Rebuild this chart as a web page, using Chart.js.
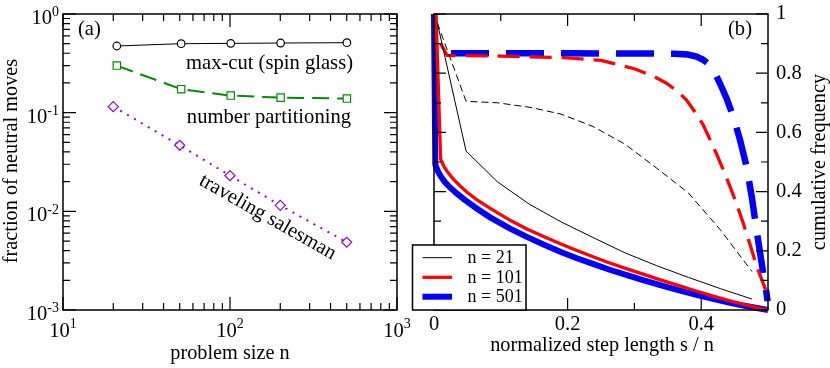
<!DOCTYPE html>
<html>
<head>
<meta charset="utf-8">
<script src="https://cdn.jsdelivr.net/npm/chart.js@4.4.1/dist/chart.umd.min.js"></script>
<style>
  html, body { margin: 0; padding: 0; background: #fff; font-family: "Liberation Serif", "DejaVu Serif", serif; }
  #wrap { position: relative; width: 830px; height: 368px; }
  #wrap canvas { position: absolute; left: 0; top: 0; }
  .probe { position: absolute; left: -999px; top: 0; font-family: "Liberation Serif"; }
</style>
</head>
<body>
<span class="probe">fontprobe 0123</span>
<div id="wrap">
  <canvas id="left" width="830" height="368"></canvas>
  <canvas id="right" width="830" height="368"></canvas>
</div>
<script>
const SERIF = '"Liberation Serif", "DejaVu Serif", serif';

// panel (a): fraction of neutral moves vs problem size
const sizes = [21, 51, 101, 201, 501];
const sizesTsp = [20, 50, 100, 200, 500];
const maxCut = [0.474, 0.500, 0.504, 0.508, 0.512];
const numberPart = [0.300, 0.173, 0.149, 0.142, 0.139];
const travSales = [0.115, 0.0467, 0.0230, 0.0115, 0.00486];
const xExpA = [1, 2, 3];
const yExpA = [0, -1, -2, -3];

// panel (b): cumulative frequency vs normalized step length
const x21 = [0.005, 0.048, 0.095, 0.143, 0.19, 0.238, 0.286, 0.333, 0.381, 0.429, 0.476];
const solid21 = [0.97, 0.537, 0.433, 0.357, 0.298, 0.245, 0.193, 0.15, 0.11, 0.072, 0.037];
const dashed21 = [0.97, 0.705, 0.70, 0.685, 0.662, 0.62, 0.56, 0.48, 0.395, 0.27, 0.13];
const x101s = [0.003, 0.0099, 0.0149, 0.0198, 0.0297, 0.0396, 0.0495, 0.0644, 0.0842, 0.114, 0.139, 0.164, 0.19, 0.214, 0.24, 0.263, 0.29, 0.313, 0.34, 0.363, 0.39, 0.413, 0.44, 0.463, 0.5];
const solid101 = [1.0, 0.51, 0.485, 0.468, 0.44, 0.418, 0.398, 0.372, 0.343, 0.303, 0.274, 0.248, 0.223, 0.201, 0.178, 0.159, 0.138, 0.121, 0.101, 0.085, 0.066, 0.05, 0.033, 0.019, 0.0];
const x101d = [0.0099, 0.0198, 0.1, 0.2, 0.25, 0.3, 0.33, 0.348, 0.365, 0.378, 0.392, 0.403, 0.413, 0.423, 0.433, 0.443, 0.453, 0.463, 0.473, 0.483, 0.4965];
const dashed101 = [0.9, 0.86, 0.858, 0.852, 0.843, 0.815, 0.788, 0.766, 0.738, 0.709, 0.665, 0.625, 0.577, 0.527, 0.474, 0.418, 0.358, 0.293, 0.222, 0.148, 0.068];
const x501s = [0.0, 0.002, 0.006, 0.01, 0.016, 0.024, 0.034, 0.046, 0.064, 0.084, 0.114, 0.139, 0.164, 0.19, 0.214, 0.24, 0.263, 0.29, 0.313, 0.34, 0.363, 0.39, 0.413, 0.44, 0.463, 0.5];
const solid501 = [1.0, 0.49, 0.468, 0.452, 0.433, 0.414, 0.394, 0.372, 0.343, 0.313, 0.275, 0.247, 0.221, 0.196, 0.175, 0.154, 0.136, 0.117, 0.101, 0.083, 0.069, 0.053, 0.04, 0.026, 0.015, 0.0];
const x501d = [0.0, 0.2, 0.36, 0.38, 0.393, 0.403, 0.413, 0.42, 0.428, 0.438, 0.448, 0.458, 0.468, 0.476, 0.483, 0.489, 0.494, 0.4975, 0.4995];
const dashed501 = [0.867, 0.867, 0.866, 0.863, 0.856, 0.845, 0.828, 0.803, 0.766, 0.715, 0.653, 0.576, 0.484, 0.378, 0.268, 0.18, 0.108, 0.06, 0.03];
const xTicksB = [0, 0.2, 0.4];
const yTicksB = [0, 0.2, 0.4, 0.6, 0.8, 1];
const legendLabels = ['n = 21', 'n = 101', 'n = 501'];

const pts = (xs, ys) => xs.map((x, i) => ({ x: x, y: ys[i] }));

function drawTicks(ctx, a, xs, ys, sx, sy) {
  ctx.beginPath();
  xs.forEach(t => {
    const p = sx.getPixelForValue(t.v);
    ctx.moveTo(p, a.bottom); ctx.lineTo(p, a.bottom - t.len);
    ctx.moveTo(p, a.top); ctx.lineTo(p, a.top + t.len);
  });
  ys.forEach(t => {
    const p = sy.getPixelForValue(t.v);
    ctx.moveTo(a.left, p); ctx.lineTo(a.left + t.len, p);
    ctx.moveTo(a.right, p); ctx.lineTo(a.right - t.len, p);
  });
  ctx.lineWidth = 1.2;
  ctx.strokeStyle = '#000';
  ctx.stroke();
  ctx.lineWidth = 1.5;
  ctx.strokeRect(a.left, a.top, a.right - a.left, a.bottom - a.top);
}

function logTicks(lo, hi) {
  const out = [];
  for (let e = lo; e <= hi; e++) {
    out.push({ v: Math.pow(10, e), len: 13 });
    if (e < hi) for (let m = 2; m <= 9; m++) out.push({ v: m * Math.pow(10, e), len: 7 });
  }
  return out;
}

function rotatedText(ctx, text, x, y, angle) {
  ctx.save();
  ctx.translate(x, y);
  ctx.rotate(angle);
  ctx.fillText(text, 0, 0);
  ctx.restore();
}

const panelA = {
  id: 'panelA',
  afterDraw(chart) {
    const { ctx, chartArea: a, scales: { x, y } } = chart;
    ctx.save();
    drawTicks(ctx, a, logTicks(1, 3), logTicks(-3, 0), x, y);
    ctx.fillStyle = '#000';
    ctx.textBaseline = 'middle';
    const base = '20.5px ' + SERIF, sup = '14px ' + SERIF;
    xExpA.forEach(e => {
      const p = x.getPixelForValue(Math.pow(10, e));
      ctx.font = base; const wb = ctx.measureText('10').width;
      ctx.font = sup; const we = ctx.measureText(String(e)).width;
      const s = p - (wb + we) / 2;
      ctx.textAlign = 'left';
      ctx.font = base; ctx.fillText('10', s, a.bottom + 21.5);
      ctx.font = sup; ctx.fillText(String(e), s + wb, a.bottom + 14.5);
    });
    yExpA.forEach(e => {
      const p = y.getPixelForValue(Math.pow(10, e));
      const r = a.left - 4;
      ctx.textAlign = 'right';
      ctx.font = sup; const we = ctx.measureText(String(e)).width;
      ctx.fillText(String(e), r, p - 1.5);
      ctx.font = base; ctx.fillText('10', r - we, p + 4.5);
    });
    ctx.font = '20.3px ' + SERIF;
    ctx.textBaseline = 'alphabetic';
    ctx.textAlign = 'center';
    ctx.fillText('problem size n', 230, 359);
    rotatedText(ctx, 'fraction of neutral moves', 17, 161, -Math.PI / 2);
    ctx.font = '20.6px ' + SERIF;
    ctx.textAlign = 'left';
    ctx.textBaseline = 'middle';
    ctx.fillText('(a)', 78, 30);
    ctx.textBaseline = 'alphabetic';
    ctx.textAlign = 'right';
    ctx.fillText('max-cut (spin glass)', 353, 69);
    ctx.fillText('number partitioning', 351, 123);
    ctx.textAlign = 'left';
    rotatedText(ctx, 'traveling salesman', 198, 184, 29.5 * Math.PI / 180);
    ctx.restore();
  }
};

const panelB = {
  id: 'panelB',
  afterDraw(chart) {
    const { ctx, chartArea: a, scales: { x, y } } = chart;
    ctx.save();
    const xt = xTicksB.map(v => ({ v, len: 12 })).concat([0.1, 0.3].map(v => ({ v, len: 7 })));
    const yt = yTicksB.map(v => ({ v, len: 12 })).concat([0.1, 0.3, 0.5, 0.7, 0.9].map(v => ({ v, len: 7 })));
    drawTicks(ctx, a, xt, yt, x, y);
    ctx.fillStyle = '#000';
    ctx.font = '20.5px ' + SERIF;
    ctx.textBaseline = 'middle';
    ctx.textAlign = 'center';
    xTicksB.forEach(v => ctx.fillText(String(v), x.getPixelForValue(v), a.bottom + 15));
    ctx.textAlign = 'left';
    yTicksB.forEach(v => ctx.fillText(String(v), a.right + 8, y.getPixelForValue(v)));
    ctx.font = '20.6px ' + SERIF;
    ctx.fillText('(b)', 728, 30);
    ctx.font = '20.3px ' + SERIF;
    ctx.textBaseline = 'alphabetic';
    ctx.textAlign = 'center';
    ctx.fillText('normalized step length s / n', 602, 351);
    rotatedText(ctx, 'cumulative frequency', 825, 162, -Math.PI / 2);

    // legend
    const box = { l: 412.5, t: 245, r: 526, b: a.bottom };
    ctx.fillStyle = '#fff';
    ctx.fillRect(box.l, box.t, box.r - box.l, box.b - box.t);
    ctx.lineWidth = 1.5;
    ctx.strokeStyle = '#000';
    ctx.strokeRect(box.l, box.t, box.r - box.l, box.b - box.t);
    const ds = chart.data.datasets;
    const rows = [257.7, 277.3, 296.7];
    [0, 2, 4].forEach((k, i) => {
      ctx.beginPath();
      ctx.moveTo(422.5, rows[i]); ctx.lineTo(452, rows[i]);
      ctx.strokeStyle = ds[k].borderColor;
      ctx.lineWidth = ds[k].borderWidth;
      ctx.stroke();
      ctx.fillStyle = '#000';
      ctx.font = '18px ' + SERIF;
      ctx.textAlign = 'left';
      ctx.textBaseline = 'middle';
      ctx.fillText(legendLabels[i], 467.5, rows[i] + 0.5);
    });
    ctx.restore();
  }
};

const common = {
  responsive: false,
  animation: false,
  events: [],
  plugins: { legend: { display: false }, tooltip: { enabled: false } }
};

const curve = (xs, ys, color, width, dash, offset) => ({
  data: pts(xs, ys), borderColor: color, borderWidth: width, borderDash: dash,
  borderDashOffset: offset || 0, pointRadius: 0, clip: 8, tension: 0
});

function build() {
  new Chart(document.getElementById('left'), {
    type: 'line',
    data: {
      datasets: [
        { label: 'max-cut (spin glass)', data: pts(sizes, maxCut), borderColor: '#000', borderWidth: 1,
          pointStyle: 'circle', pointRadius: 3.8, pointBorderWidth: 1.2, pointBorderColor: '#000', pointBackgroundColor: '#fff' },
        { label: 'number partitioning', data: pts(sizes, numberPart), borderColor: 'rgb(0,140,0)', borderWidth: 2, borderDash: [17, 8],
          pointStyle: 'rect', pointRadius: 5.2, pointBorderWidth: 1.2, pointBorderColor: 'rgb(0,140,0)', pointBackgroundColor: '#fff' },
        { label: 'traveling salesman', data: pts(sizesTsp, travSales), borderColor: 'rgb(148,0,211)', borderWidth: 2, borderDash: [2, 6],
          pointStyle: 'rectRot', pointRadius: 5, pointBorderWidth: 1.2, pointBorderColor: 'rgb(148,0,211)', pointBackgroundColor: '#fff' }
      ]
    },
    options: Object.assign({}, common, {
      layout: { padding: { left: 63, right: 433, top: 14, bottom: 58 } },
      scales: {
        x: { type: 'logarithmic', min: 10, max: 1000, display: false },
        y: { type: 'logarithmic', min: 0.001, max: 1, display: false }
      }
    }),
    plugins: [panelA]
  });

  new Chart(document.getElementById('right'), {
    type: 'line',
    data: {
      datasets: [
        curve(x21, solid21, '#000', 1, []),
        curve(x21, dashed21, '#000', 1, [7, 4]),
        curve(x101s, solid101, 'rgb(255,0,0)', 3.3, []),
        curve(x101d, dashed101, 'rgb(255,0,0)', 3.3, [22, 10]),
        curve(x501s, solid501, 'rgb(0,0,255)', 6, []),
        curve(x501d, dashed501, 'rgb(0,0,255)', 6.5, [38, 17], 38)
      ]
    },
    options: Object.assign({}, common, {
      layout: { padding: { left: 434, right: 62, top: 14, bottom: 58 } },
      scales: {
        x: { type: 'linear', min: 0, max: 0.5, display: false },
        y: { type: 'linear', min: 0, max: 1, display: false }
      }
    }),
    plugins: [panelB]
  });
}

Promise.all([
  document.fonts.load('20px "Liberation Serif"'),
  document.fonts.load('20px "DejaVu Serif"')
]).catch(() => {}).then(build);
</script>
</body>
</html>
